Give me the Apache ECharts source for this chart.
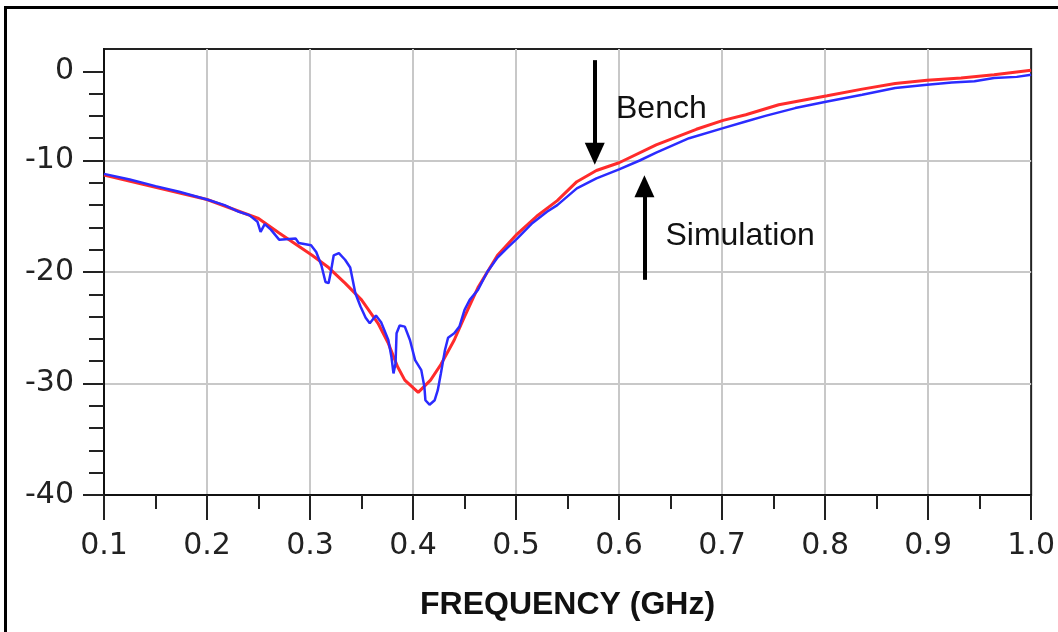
<!DOCTYPE html>
<html>
<head>
<meta charset="utf-8">
<script src="https://cdn.jsdelivr.net/npm/echarts@6/dist/echarts.min.js"></script>
<style>
  html, body { margin: 0; padding: 0; background: #fff; }
  #container { width: 1058px; height: 632px; }
</style>
</head>
<body>
<div id="container"></div>
<script>
// frequency (GHz) / level pairs
var benchFreq = [0.100, 0.150, 0.200, 0.250, 0.270, 0.302, 0.318, 0.334, 0.350, 0.366, 0.376, 0.385, 0.392, 0.405,
    0.417, 0.427, 0.440, 0.450, 0.463, 0.482, 0.501, 0.520, 0.540, 0.559, 0.578, 0.600, 0.636, 0.675, 0.701,
    0.723, 0.755, 0.802, 0.836, 0.868, 0.899, 0.932, 0.964, 1.000];
var benchLevel = [-11.3, -12.4, -13.5, -15.2, -16.5, -18.5, -19.6, -21.0, -22.5, -24.6, -26.4, -28.5, -29.7, -30.8,
    -29.7, -28.3, -26.1, -24.0, -21.4, -18.5, -16.6, -15.0, -13.6, -11.9, -10.9, -10.2, -8.6, -7.2, -6.4,
    -5.9, -5.0, -4.2, -3.6, -3.1, -2.8, -2.6, -2.3, -1.9];

var simFreq = [0.100, 0.125, 0.150, 0.173, 0.200, 0.217, 0.231, 0.241, 0.249, 0.252, 0.256, 0.262, 0.270, 0.286,
    0.289, 0.301, 0.306, 0.311, 0.315, 0.318, 0.320, 0.323, 0.328, 0.334, 0.339, 0.344, 0.349, 0.354, 0.358,
    0.364, 0.369, 0.376, 0.379, 0.381, 0.383, 0.384, 0.387, 0.392, 0.397, 0.402, 0.408, 0.411, 0.412, 0.416,
    0.421, 0.424, 0.427, 0.431, 0.434, 0.440, 0.445, 0.450, 0.455, 0.463, 0.472, 0.482, 0.492, 0.501, 0.516,
    0.530, 0.540, 0.559, 0.578, 0.600, 0.620, 0.636, 0.668, 0.701, 0.723, 0.742, 0.771, 0.802, 0.836,
    0.868, 0.899, 0.923, 0.945, 0.964, 0.986, 1.000];
var simLevel = [-11.2, -11.7, -12.3, -12.8, -13.5, -14.0, -14.6, -14.9, -15.5, -16.4, -15.7, -16.2, -17.1, -17.0,
    -17.4, -17.6, -18.2, -19.4, -20.9, -21.0, -20.1, -18.5, -18.3, -18.9, -19.6, -21.9, -23.1, -24.1, -24.6,
    -23.9, -24.5, -26.1, -27.6, -29.1, -28.2, -25.5, -24.8, -24.9, -26.1, -27.9, -28.8, -30.3, -31.5, -31.9,
    -31.5, -30.6, -29.1, -27.0, -25.9, -25.5, -24.9, -23.4, -22.5, -21.6, -20.0, -18.7, -17.8, -17.0, -15.6,
    -14.6, -14.0, -12.5, -11.6, -10.8, -10.0, -9.3, -8.0, -7.1, -6.5, -6.0, -5.3, -4.7, -4.1,
    -3.5, -3.2, -3.0, -2.9, -2.6, -2.5, -2.3];

// y tick labels as printed (the "0" sits one minor step below the top)
var yMajorTicks = [-2, -10, -20, -30, -40];
var yMajorLabels = ['0', '-10', '-20', '-30', '-40'];

// small ticks every 2 units, none at the very top edge
var yMinorTicks = [];
for (var t = -40; t < 0; t += 2) yMinorTicks.push(t);

function pairs(xs, ys) {
    var out = [];
    for (var i = 0; i < xs.length; i++) out.push([xs[i], ys[i]]);
    return out;
}

var dom = document.getElementById('container');
var myChart = echarts.init(dom);

var tickFont = 'DejaVu Sans';

option = {
    animation: false,
    backgroundColor: '#fff',
    grid: {
        left: 104, right: 21, top: 49, bottom: 137,
        show: true, borderColor: '#222', borderWidth: 2, backgroundColor: 'transparent'
    },
    graphic: [{
        type: 'rect',
        shape: { x: 5.5, y: 7.5, width: 1200, height: 800 },
        style: { fill: 'none', stroke: '#000', lineWidth: 3 },
        silent: true
    }],
    xAxis: {
        type: 'value',
        min: 0.1, max: 1.0, interval: 0.1,
        name: 'FREQUENCY (GHz)',
        nameLocation: 'middle',
        nameGap: 94,
        nameTextStyle: { fontFamily: 'Liberation Sans', fontWeight: 'bold', fontSize: 32, color: '#111' },
        axisLine: { show: true, onZero: false, lineStyle: { color: '#111', width: 2 } },
        axisTick: { show: true, inside: false, length: 25, lineStyle: { color: '#222', width: 2 } },
        minorTick: { show: true, splitNumber: 2, length: 14, lineStyle: { color: '#222', width: 2 } },
        axisLabel: {
            margin: 36, fontFamily: tickFont, fontSize: 30, color: '#222',
            formatter: function (v) { return v.toFixed(1); }
        },
        splitLine: { show: true, showMinLine: false, showMaxLine: false, lineStyle: { color: '#c8c8c8', width: 2 } }
    },
    yAxis: [{
        type: 'value', position: 'left',
        min: -40, max: 0, interval: 10,
        axisLine: { show: true, onZero: false, lineStyle: { color: '#111', width: 2 } },
        axisTick: { show: false },
        axisLabel: { show: false },
        splitLine: { show: true, showMinLine: false, showMaxLine: false, lineStyle: { color: '#c8c8c8', width: 2 } }
    }, {
        type: 'value', position: 'left',
        min: -40, max: 0, interval: 2,
        axisLine: { show: false },
        axisTick: { show: true, length: 15, customValues: yMinorTicks, lineStyle: { color: '#222', width: 2 } },
        axisLabel: { show: false },
        splitLine: { show: false }
    }, {
        type: 'value', position: 'left',
        min: -40, max: 0, interval: 2,
        axisLine: { show: false },
        axisTick: { show: true, length: 21, customValues: yMajorTicks, lineStyle: { color: '#222', width: 2 } },
        axisLabel: {
            show: true, margin: 30, fontFamily: tickFont, fontSize: 30, color: '#222',
            customValues: yMajorTicks,
            formatter: function (v) {
                var i = yMajorTicks.indexOf(v);
                return i >= 0 ? yMajorLabels[i] : '';
            }
        },
        splitLine: { show: false }
    }],
    series: [{
        name: 'Bench',
        type: 'line',
        data: pairs(benchFreq, benchLevel),
        showSymbol: false,
        lineStyle: { color: '#ff2b2b', width: 3 },
        itemStyle: { color: '#ff2b2b' },
        z: 3,
        markLine: {
            silent: true,
            symbol: ['none', 'triangle'],
            symbolSize: [20, 22],
            label: { show: false },
            lineStyle: { color: '#000', width: 4, type: 'solid' },
            data: [
                [{ coord: [0.5764, -1.0] }, { coord: [0.5764, -9.4] }],
                [{ coord: [0.6246, -20.7] }, { coord: [0.6246, -12.3] }]
            ]
        },
        markPoint: {
            silent: true,
            symbol: 'circle',
            symbolSize: 0,
            label: {
                show: true, position: 'right', distance: 0,
                fontFamily: 'Liberation Sans', fontSize: 32, color: '#111',
                formatter: function (p) { return p.name; }
            },
            data: [
                { name: 'Bench', coord: [0.597, -5.4] },
                { name: 'Simulation', coord: [0.645, -16.8] }
            ]
        }
    }, {
        name: 'Simulation',
        type: 'line',
        data: pairs(simFreq, simLevel),
        showSymbol: false,
        lineStyle: { color: '#2b2bff', width: 2.5 },
        itemStyle: { color: '#2b2bff' },
        z: 4
    }]
};

window.onresize = function () {
    myChart.resize();
};
if (option && typeof option === 'object') {
    myChart.setOption(option, true);
}
</script>
</body>
</html>
